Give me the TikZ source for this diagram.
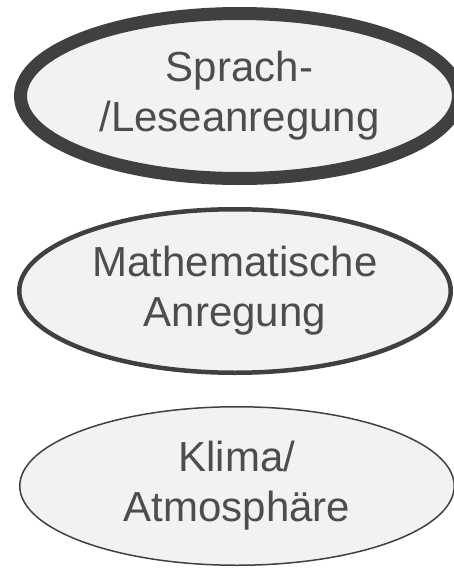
\documentclass[tikz,border=0pt]{standalone}
\usepackage{fontspec}
\setmainfont{Liberation Sans}
\usetikzlibrary{shapes.geometric}

\definecolor{ovalfill}{HTML}{F2F2F2}
\definecolor{ovalline}{HTML}{404040}
\definecolor{ovaltext}{HTML}{4D4D4D}

\begin{document}
\begin{tikzpicture}[
  x=1pt, y=1pt,
  every node/.style={font=\fontsize{42}{50}\selectfont, text=ovaltext},
  oval/.style={ellipse, draw=ovalline, fill=ovalfill, inner sep=0pt, align=center}
]
  \useasboundingbox (0,0) rectangle (454,-568);

  % Areas of stimulation
  \node (S) [oval, line width=13pt, minimum width=438pt, minimum height=165pt]
    at (239.5,-96) {Sprach-\\/Leseanregung};
  \node (M) [oval, line width=4.5pt, minimum width=431.5pt, minimum height=163.5pt]
    at (235,-291) {Mathematische\\Anregung};
  \node (K) [oval, line width=1.5pt, minimum width=434.5pt, minimum height=158.5pt]
    at (237,-486) {Klima/\\Atmosphäre};
\end{tikzpicture}
\end{document}
